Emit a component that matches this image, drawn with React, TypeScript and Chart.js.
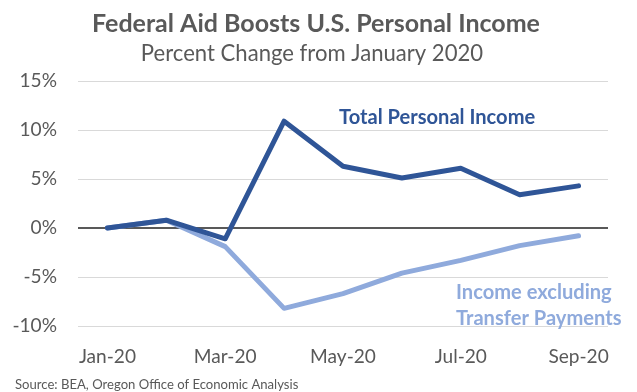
import React, { useEffect, useRef } from "react";
import { Chart, registerables } from "chart.js";

Chart.register(...registerables);

// ---- Data ----
const months = ["Jan-20", "Feb-20", "Mar-20", "Apr-20", "May-20", "Jun-20", "Jul-20", "Aug-20", "Sep-20"];
const totalPersonalIncome = [0, 0.8, -1.1, 10.9, 6.3, 5.1, 6.1, 3.4, 4.3];
const incomeExclTransfers = [0, 0.8, -1.9, -8.2, -6.7, -4.6, -3.3, -1.8, -0.8];
const yMin = -10;
const yMax = 15;
const yStep = 5;

const titleText = "Federal Aid Boosts U.S. Personal Income";
const subtitleText = "Percent Change from January 2020";
const sourceText = "Source: BEA, Oregon Office of Economic Analysis";
const totalLabel = "Total Personal Income";
const exclLabelLines = ["Income excluding", "Transfer Payments"];

// ---- Style ----
const FONT = "Lato";
const DARK = "#2F5597";
const LIGHT = "#8FAADC";
const TEXT = "#595959";
const GRID = "#D9D9D9";
const ZERO = "#595959";

function fitSize(text: string, weight: string, target: number): number {
  const c = document.createElement("canvas").getContext("2d") as CanvasRenderingContext2D;
  c.font = `${weight} 100px ${FONT}`;
  const w = c.measureText(text).width;
  return Math.round((1000 * target) / w) / 10;
}

export default function App() {
  const ref = useRef<HTMLCanvasElement | null>(null);

  useEffect(() => {
    if (!ref.current) return;
    const titleSize = fitSize(titleText, "bold", 448);
    const subSize = fitSize(subtitleText, "normal", 342);
    const tickSize = fitSize("Jan-20", "normal", 57);
    const annSize = fitSize(totalLabel, "bold", 196);
    const srcSize = fitSize(sourceText, "normal", 283);

    const textPlugin = {
      id: "texts",
      afterDraw(chart: any) {
        const ctx = chart.ctx as CanvasRenderingContext2D;
        ctx.save();
        ctx.textBaseline = "alphabetic";
        ctx.fillStyle = TEXT;
        ctx.textAlign = "center";
        ctx.font = `bold ${titleSize}px ${FONT}`;
        ctx.fillText(titleText, 316, 32);
        ctx.font = `normal ${subSize}px ${FONT}`;
        ctx.fillText(subtitleText, 312, 61);
        ctx.textAlign = "left";
        ctx.font = `normal ${srcSize}px ${FONT}`;
        ctx.fillText(sourceText, 15, 389);
        ctx.font = `bold ${annSize}px ${FONT}`;
        ctx.fillStyle = DARK;
        ctx.fillText(totalLabel, 339, 124);
        ctx.fillStyle = LIGHT;
        ctx.fillText(exclLabelLines[0], 456, 299);
        ctx.fillText(exclLabelLines[1], 456, 325);
        ctx.restore();
      },
    };

    const chart = new Chart(ref.current, {
      type: "line",
      data: {
        labels: months,
        datasets: [
          {
            label: totalLabel,
            data: totalPersonalIncome,
            borderColor: DARK,
            backgroundColor: DARK,
            borderWidth: 5,
            pointRadius: 0,
            tension: 0,
            borderCapStyle: "round",
            borderJoinStyle: "round",
          },
          {
            label: exclLabelLines.join(" "),
            data: incomeExclTransfers,
            borderColor: LIGHT,
            backgroundColor: LIGHT,
            borderWidth: 5,
            pointRadius: 0,
            tension: 0,
            borderCapStyle: "round",
            borderJoinStyle: "round",
          },
        ],
      },
      options: {
        responsive: false,
        animation: false,
        devicePixelRatio: 1,
        layout: { padding: { top: 81, left: 0, right: 29, bottom: 26 } },
        plugins: {
          legend: { display: false },
          tooltip: { enabled: false },
          title: { display: false },
        },
        scales: {
          x: {
            offset: true,
            grid: { display: false },
            border: { display: false },
            afterFit: (s: any) => {
              s.height = 40;
            },
            ticks: {
              autoSkip: false,
              maxRotation: 0,
              padding: 11,
              color: TEXT,
              font: { family: FONT, size: tickSize },
              callback: (_v: any, i: number) => (i % 2 === 0 ? months[i] : ""),
            },
          },
          y: {
            min: yMin,
            max: yMax,
            border: { display: false },
            afterFit: (s: any) => {
              s.width = 78;
            },
            grid: {
              drawTicks: false,
              color: (c: any) => (c.tick && c.tick.value === 0 ? ZERO : GRID),
              lineWidth: (c: any) => (c.tick && c.tick.value === 0 ? 2 : 1),
            },
            ticks: {
              stepSize: yStep,
              padding: 21,
              color: TEXT,
              font: { family: FONT, size: tickSize },
              callback: (v: any) => `${v}%`,
            },
          },
        },
      },
      plugins: [textPlugin],
    });
    return () => chart.destroy();
  }, []);

  return (
    <div style={{ position: "absolute", left: 0, top: 0, width: 637, height: 392, background: "#fff" }}>
      <canvas ref={ref} width={637} height={392} style={{ display: "block" }} />
    </div>
  );
}
